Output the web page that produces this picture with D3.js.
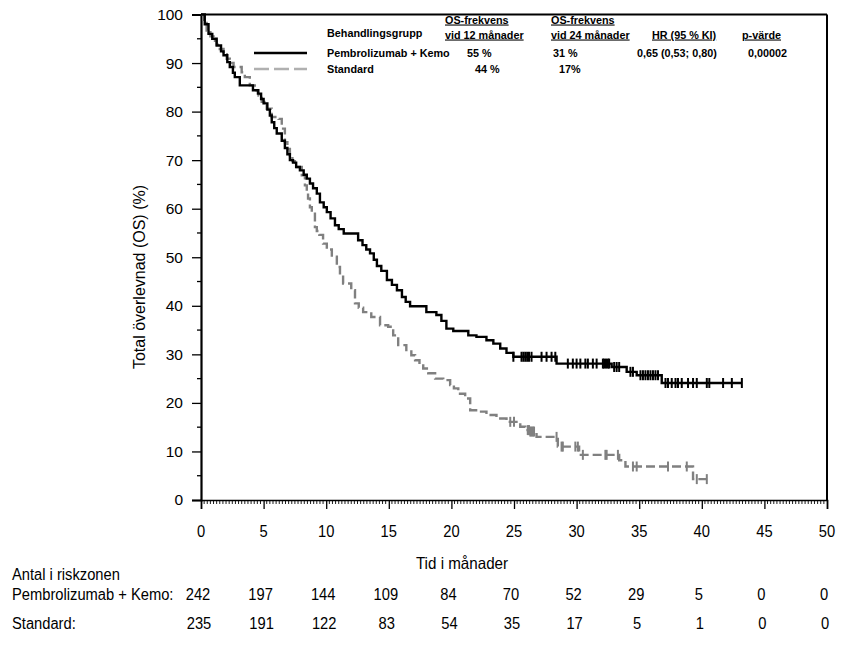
<!DOCTYPE html>
<html>
<head>
<meta charset="utf-8">
<script src="https://cdn.jsdelivr.net/npm/d3@7"></script>
<style>
  body { margin: 0; background: #fff; }
  svg { display: block; }
  .arial { font-family: "Liberation Sans", Arial, sans-serif; }
  .leg { font-family: "Liberation Sans", Arial, sans-serif; font-size: 10.8px; font-weight: bold; }
</style>
</head>
<body>
<div id="chart"></div>
<script>
// Kaplan-Meier steps: time (months) and survival (%) after each drop
const pembroTime = [0, 0.3, 0.6, 0.9, 1.25, 1.6, 1.8, 2.1, 2.3, 2.55, 2.7, 3.1, 4.15, 4.55, 4.8, 5.0, 5.3, 5.5, 5.65, 5.85,
  6.05, 6.45, 6.7, 6.9, 7.1, 7.35, 7.6, 7.9, 8.2, 8.45, 8.7, 8.95, 9.25, 9.5, 9.8, 10.05, 10.35, 10.7, 11.0, 11.4,
  12.55, 12.9, 13.2, 13.5, 13.8, 14.05, 14.4, 14.85, 15.25, 15.65, 16.05, 16.35, 16.7, 18.0, 18.8, 19.2, 19.6, 20.15,
  21.35, 22.0, 22.8, 23.35, 23.9, 24.4, 24.95, 28.4, 32.8, 34.0, 34.8, 36.8];
const pembroSurv = [100, 98, 96, 95, 93.6, 92.4, 91.6, 90.2, 89.2, 88.0, 87.1, 85.4, 84.4, 83.7, 82.6, 81.7, 80.4, 79.2, 77.8, 76.6,
  75.5, 74.0, 72.5, 71.2, 70.0, 69.5, 68.6, 67.9, 67.0, 66.2, 65.2, 64.2, 63.1, 61.3, 60.3, 59.3, 58.0, 56.6, 55.8, 54.9,
  53.5, 52.5, 51.6, 50.8, 49.5, 48.2, 47.2, 45.3, 44.3, 43.2, 41.8, 40.8, 39.9, 38.7, 38.1, 36.9, 35.3, 34.8,
  33.9, 33.6, 32.9, 32.2, 31.2, 30.3, 29.5, 28.1, 27.4, 26.4, 25.7, 24.1];
const pembroEnd = 43.2;
const pembroCensor = [24.95, 25.6, 25.75, 25.9, 26.05, 26.2, 26.4, 27.2, 27.6, 28.0, 28.3, 29.3, 29.7, 30.0, 30.3, 30.7,
  30.9, 31.3, 31.6, 32.1, 32.2, 32.35, 32.5, 32.6, 33.0, 33.2, 33.4, 34.3, 34.5, 35.1, 35.3, 35.5, 35.7, 35.9, 36.1,
  36.3, 36.5, 37.1, 37.3, 37.6, 37.9, 38.1, 38.4, 38.9, 39.3, 39.6, 40.4, 40.6, 41.7, 42.4, 43.2];

const standardTime = [0, 0.2, 0.45, 0.75, 1.0, 1.25, 1.5, 1.8, 2.05, 2.3, 2.6, 3.25, 3.5, 3.9, 4.3, 4.6, 4.85, 5.25, 5.65,
  6.2, 6.45, 6.7, 6.9, 7.1, 7.3, 7.5, 8.05, 8.3, 8.45, 8.55, 8.7, 8.85, 9.1, 9.25, 9.45, 9.75, 10.05, 10.45, 10.85,
  11.1, 11.35, 12.0, 12.3, 12.6, 12.95, 13.6, 14.3, 14.95, 15.35, 15.75, 16.4, 16.8, 17.1, 17.45, 17.75, 18.15, 18.7,
  19.35, 19.9, 20.2, 20.55, 21.1, 21.5, 22.15, 22.8, 23.6, 24.4, 25.5, 25.9, 26.3, 26.8, 28.5, 30.2, 33.4, 33.9, 39.3];
const standardSurv = [100, 98.5, 96.7, 95.5, 94.6, 93.8, 92.9, 91.8, 90.9, 90.0, 89.2, 88.1, 87.1, 85.4, 84.4, 83.3, 82.0, 80.6, 78.9,
  78.5, 76.5, 73.7, 72.3, 71.0, 69.8, 68.6, 66.9, 64.8, 63.5, 62.1, 60.3, 59.3, 56.2, 55.4, 54.6, 52.8, 51.6, 50.1, 48.0,
  46.3, 44.6, 43.2, 40.5, 39.6, 38.7, 37.7, 36.0, 35.7, 33.9, 31.9, 30.9, 29.8, 28.8, 28.0, 27.1, 26.1, 25.0,
  24.7, 23.7, 23.0, 21.9, 20.9, 18.5, 18.2, 17.5, 16.8, 16.1, 15.1, 14.4, 14.1, 13.0, 11.0, 9.3, 8.2, 6.9, 4.3];
const standardEnd = 40.4;
const standardCensor = [24.7, 25.0, 26.1, 26.2, 26.3, 26.4, 26.5, 26.6, 28.4, 28.8, 28.9, 29.9, 30.1, 30.5, 32.3, 32.4,
  33.3, 34.5, 34.8, 37.3, 38.8, 39.6, 40.4];

// risk table
const riskTimes = [0, 5, 10, 15, 20, 25, 30, 35, 40, 45, 50];
const riskPembro = [242, 197, 144, 109, 84, 70, 52, 29, 5, 0, 0];
const riskStandard = [235, 191, 122, 83, 54, 35, 17, 5, 1, 0, 0];

// legend table
const legendGroups = ["Pembrolizumab + Kemo", "Standard"];
const os12 = ["55 %", "44 %"];
const os24 = ["31 %", "17%"];
const hrText = "0,65 (0,53; 0,80)";
const pText = "0,00002";

const width = 854, height = 646;
const x = d3.scaleLinear().domain([0, 50]).range([201, 827]);
const y = d3.scaleLinear().domain([0, 100]).range([500, 14.5]);

const svg = d3.select('#chart').append('svg')
    .attr('width', width)
    .attr('height', height);

// frame: top and right lines
svg.append('line').attr('x1', x(0)).attr('x2', x(50)).attr('y1', y(100)).attr('y2', y(100))
  .attr('stroke', '#000').attr('stroke-width', 2);
svg.append('line').attr('x1', x(50)).attr('x2', x(50)).attr('y1', y(100)).attr('y2', y(0))
  .attr('stroke', '#000').attr('stroke-width', 2);

// y axis
const yAxis = svg.append('g').attr('transform', 'translate(' + x(0) + ',0)')
  .call(d3.axisLeft(y).tickValues(d3.range(0, 101, 10)).tickSize(9).tickPadding(9));
yAxis.select('.domain').attr('stroke-width', 2.2);
yAxis.selectAll('.tick line').attr('stroke-width', 1.3);
yAxis.selectAll('.tick text').attr('class', 'arial').style('font-size', '15.5px').attr('fill', '#000');
yAxis.selectAll('.minor').data(d3.range(5, 100, 10)).enter().append('line')
  .attr('x1', -4).attr('x2', 0).attr('y1', d => y(d)).attr('y2', d => y(d))
  .attr('stroke', '#000').attr('stroke-width', 1.3);

// x axis
const xAxis = svg.append('g').attr('transform', 'translate(0,' + y(0) + ')')
  .call(d3.axisBottom(x).tickValues(d3.range(0, 51, 5)).tickSize(9).tickFormat(''));
xAxis.select('.domain').attr('stroke-width', 1.6);
xAxis.selectAll('.tick line').attr('stroke-width', 1.3);
xAxis.selectAll('.minor').data(d3.range(0.25, 50, 0.25).filter(d => Math.abs(d % 5) > 0.01)).enter().append('line')
  .attr('x1', d => x(d)).attr('x2', d => x(d)).attr('y1', 0).attr('y2', 4)
  .attr('stroke', '#000').attr('stroke-width', 0.9);

// narrow-looking labels (x ticks, risk table)
const narrow = (sel, cx, cy, txt, anchor) => sel.append('text')
  .attr('class', 'arial')
  .attr('transform', 'translate(' + cx + ',' + cy + ') scale(0.92,1)')
  .attr('text-anchor', anchor || 'middle')
  .style('font-size', '16px')
  .text(txt);

riskTimes.forEach(t => narrow(svg, x(t), 537, t));
narrow(svg, 462, 569, 'Tid i månader').style('font-size', '16.5px');

// y label
svg.append('text').attr('class', 'arial')
  .attr('transform', 'translate(145,277) rotate(-90)')
  .attr('text-anchor', 'middle')
  .style('font-size', '16px')
  .text('Total överlevnad (OS) (%)');

// risk table
narrow(svg, 12, 580, 'Antal i riskzonen', 'start');
narrow(svg, 12, 600, 'Pembrolizumab + Kemo:', 'start');
narrow(svg, 12, 629, 'Standard:', 'start');
riskTimes.forEach((t, i) => {
  narrow(svg, x(t) - 3, 600, riskPembro[i]);
  narrow(svg, x(t) - 2, 629, riskStandard[i]);
});

// curves
const stepLine = d3.line().x(d => x(d[0])).y(d => y(d[1])).curve(d3.curveStepAfter);
const series = [
  { time: standardTime, surv: standardSurv, end: standardEnd, censor: standardCensor, color: '#808080', dash: '9,4' },
  { time: pembroTime, surv: pembroSurv, end: pembroEnd, censor: pembroCensor, color: '#000', dash: null }
];
series.forEach(s => {
  const pts = s.time.map((t, i) => [t, s.surv[i]]);
  pts.push([s.end, s.surv[s.surv.length - 1]]);
  svg.append('path').datum(pts)
    .attr('d', stepLine)
    .attr('fill', 'none')
    .attr('stroke', s.color)
    .attr('stroke-width', 2.4)
    .attr('stroke-dasharray', s.dash);
  const survAt = t => {
    let v = 100;
    s.time.forEach((tt, i) => { if (tt <= t) v = s.surv[i]; });
    return v;
  };
  svg.append('g').selectAll('line').data(s.censor).enter().append('line')
    .attr('x1', d => x(d)).attr('x2', d => x(d))
    .attr('y1', d => y(survAt(d)) - 5).attr('y2', d => y(survAt(d)) + 5)
    .attr('stroke', s.color).attr('stroke-width', 2);
});

// legend
const leg = svg.append('g').attr('class', 'leg');
const headers = [
  { x: 445, l1: 'OS-frekvens', l2: 'vid 12 månader' },
  { x: 551, l1: 'OS-frekvens', l2: 'vid 24 månader' },
  { x: 652, l1: null, l2: 'HR (95 % KI)' },
  { x: 742, l1: null, l2: 'p-värde' }
];
headers.forEach(h => {
  if (h.l1) leg.append('text').attr('x', h.x).attr('y', 23.5).style('text-decoration', 'underline').text(h.l1);
  leg.append('text').attr('x', h.x).attr('y', 38.5).style('text-decoration', 'underline').text(h.l2);
});
leg.append('text').attr('x', 327).attr('y', 37).text('Behandlingsgrupp');

const legRowY = [57, 73];
const legStroke = [{ color: '#000', dash: null }, { color: '#b0b0b0', dash: '15,5' }];
legendGroups.forEach((g, i) => {
  leg.append('line').attr('x1', 254).attr('x2', 307)
    .attr('y1', legRowY[i] - 4).attr('y2', legRowY[i] - 4)
    .attr('stroke', legStroke[i].color).attr('stroke-width', 2.6)
    .attr('stroke-dasharray', legStroke[i].dash);
  leg.append('text').attr('x', 327).attr('y', legRowY[i]).text(g);
});
leg.append('text').attr('x', 467).attr('y', legRowY[0]).text(os12[0]);
leg.append('text').attr('x', 475).attr('y', legRowY[1]).text(os12[1]);
leg.append('text').attr('x', 553).attr('y', legRowY[0]).text(os24[0]);
leg.append('text').attr('x', 559).attr('y', legRowY[1]).text(os24[1]);
leg.append('text').attr('x', 637).attr('y', legRowY[0]).text(hrText);
leg.append('text').attr('x', 748).attr('y', legRowY[0]).text(pText);
</script>
</body>
</html>
